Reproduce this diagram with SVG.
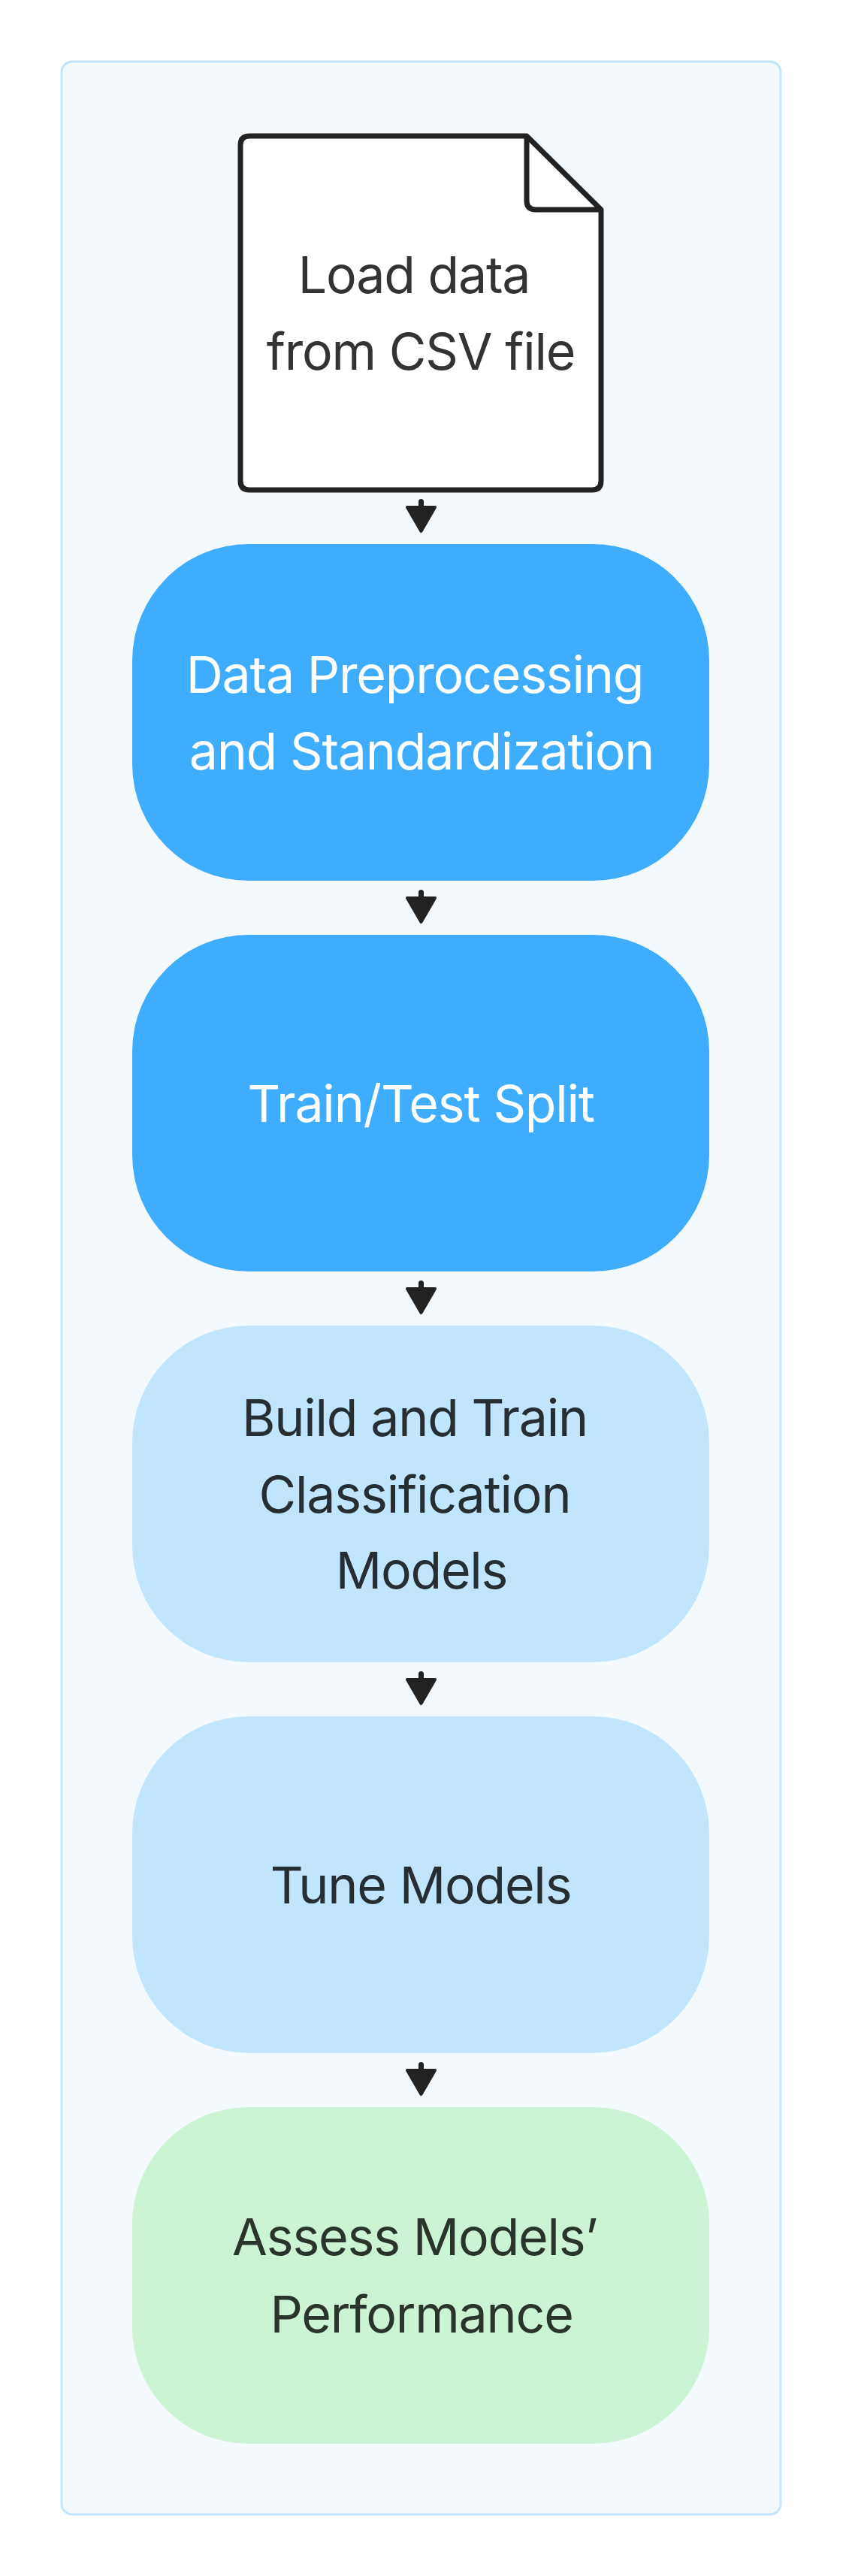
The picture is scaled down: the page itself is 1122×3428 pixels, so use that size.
<svg xmlns="http://www.w3.org/2000/svg" width="1122" height="3428" viewBox="0 0 1122 3428">
  <style>
    .lbl { font-family: Inter, "Liberation Sans", sans-serif; font-size: 68px; letter-spacing: -1.2px; text-anchor: middle; }
    .dark { fill: #333333; }
    .white { fill: #ffffff; }
    .blue-dark { fill: #262d33; }
    .green-dark { fill: #2a332c; }
    .conn { stroke: #222222; stroke-width: 7; stroke-linecap: round; fill: none; }
    .head { fill: #222222; stroke: #222222; stroke-width: 4; stroke-linejoin: round; }
  </style>
  <rect x="0" y="0" width="1122" height="3428" fill="#ffffff"/>
  <g id="container">
    <rect x="82" y="82" width="957" height="3264" rx="14" ry="14" fill="#f4f9fe" stroke="#c2e5fd" stroke-width="3"/>
  </g>
  <g id="node-load">
    <path d="M 701 181 L 332 181 Q 320 181 320 193 L 320 640 Q 320 652 332 652 L 788 652 Q 800 652 800 640 L 800 279 Z" fill="#ffffff" stroke="#222222" stroke-width="7" stroke-linejoin="round"/>
    <path d="M 701 181 L 701 267 Q 701 279 713 279 L 800 279" fill="none" stroke="#222222" stroke-width="7" stroke-linejoin="round"/>
    <text class="lbl dark" x="551" y="390">Load data</text>
    <text class="lbl dark" x="560" y="492">from CSV file</text>
  </g>
  <g id="node-preprocess">
    <rect x="176" y="724" width="768" height="448" rx="155" ry="155" fill="#3fadfe"/>
    <text class="lbl white" x="552" y="922">Data Preprocessing</text>
    <text class="lbl white" x="561" y="1024">and Standardization</text>
  </g>
  <g id="node-split">
    <rect x="176" y="1244" width="768" height="448" rx="155" ry="155" fill="#3fadfe"/>
    <text class="lbl white" x="560" y="1493">Train/Test Split</text>
  </g>
  <g id="node-build">
    <rect x="176" y="1764" width="768" height="448" rx="155" ry="155" fill="#c2e5fe"/>
    <text class="lbl blue-dark" x="552" y="1911">Build and Train</text>
    <text class="lbl blue-dark" x="552" y="2013">Classification</text>
    <text class="lbl blue-dark" x="561" y="2114">Models</text>
  </g>
  <g id="node-tune">
    <rect x="176" y="2284" width="768" height="448" rx="155" ry="155" fill="#c2e5fe"/>
    <text class="lbl blue-dark" x="560" y="2533">Tune Models</text>
  </g>
  <g id="node-assess">
    <rect x="176" y="2804" width="768" height="448" rx="155" ry="155" fill="#ccf4d4"/>
    <text class="lbl green-dark" x="552" y="3001">Assess Models’</text>
    <text class="lbl green-dark" x="561" y="3104">Performance</text>
  </g>
  <g id="connectors">
    <line class="conn" x1="560.5" y1="667.5" x2="560.5" y2="680"/>
    <path class="head" d="M 542 675 L 579 675 L 560.5 707 Z"/>
    <line class="conn" x1="560.5" y1="1187.5" x2="560.5" y2="1200"/>
    <path class="head" d="M 542 1195 L 579 1195 L 560.5 1227 Z"/>
    <line class="conn" x1="560.5" y1="1707.5" x2="560.5" y2="1720"/>
    <path class="head" d="M 542 1715 L 579 1715 L 560.5 1747 Z"/>
    <line class="conn" x1="560.5" y1="2227.5" x2="560.5" y2="2240"/>
    <path class="head" d="M 542 2235 L 579 2235 L 560.5 2267 Z"/>
    <line class="conn" x1="560.5" y1="2747.5" x2="560.5" y2="2760"/>
    <path class="head" d="M 542 2755 L 579 2755 L 560.5 2787 Z"/>
  </g>
</svg>
